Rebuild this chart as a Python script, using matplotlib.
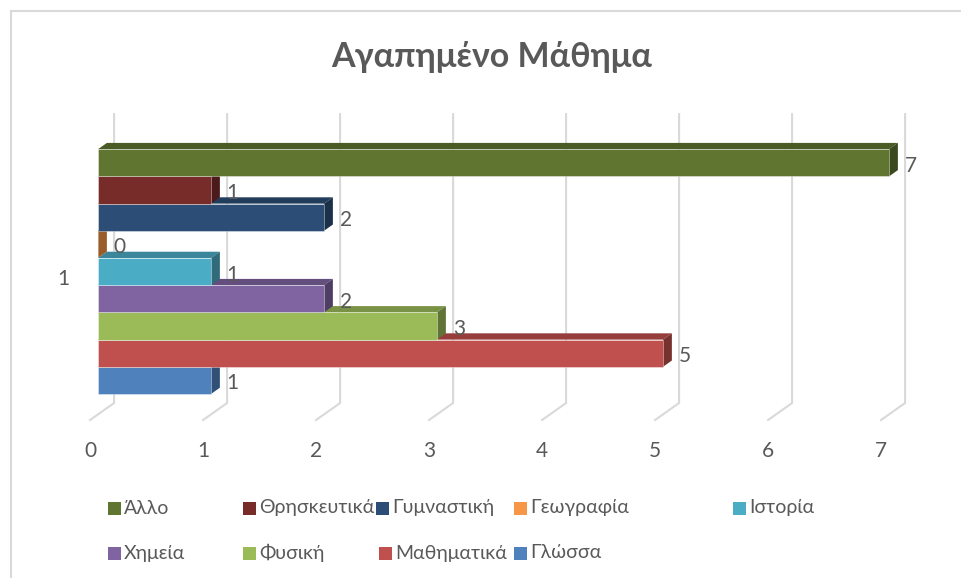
import matplotlib.pyplot as plt
from matplotlib.patches import Polygon, Rectangle

# data, listed bottom to top as drawn
subjects = ['Γλώσσα', 'Μαθηματικά', 'Φυσική', 'Χημεία', 'Ιστορία',
            'Γεωγραφία', 'Γυμναστική', 'Θρησκευτικά', 'Άλλο']
counts = [1, 5, 3, 2, 1, 0, 2, 1, 7]
colors = ['#4F81BD', '#C0504D', '#9BBB59', '#8064A2', '#4BACC6',
          '#F79646', '#2C4D75', '#772C2A', '#5F7530']
category = '1'
xticks = [0, 1, 2, 3, 4, 5, 6, 7]

# legend reading order (Excel style, row by row)
legend_rows = [['Άλλο', 'Θρησκευτικά', 'Γυμναστική', 'Γεωγραφία', 'Ιστορία'],
               ['Χημεία', 'Φυσική', 'Μαθηματικά', 'Γλώσσα']]
legend_x = [[108, 243, 376, 514, 733], [108, 243, 379, 514]]
legend_y = [508, 553]

W, H = 962, 578
X0, XS = 98, 113.0      # pixel of value 0 and pixels per unit (bar front plane)
Y0, YS = 394, 27.2      # pixel of bottom bar edge and pixels per bar

# 3d depth: full wall offset in data units
DX, DY = 24 / XS, 17 / YS
F0, F1 = 0.33, 0.70     # bar front / back depth fractions
Y_FLOOR, Y_TOP = -0.75, 9.87

TEXT = '#595959'
GRID = '#D9D9D9'
FONT = ['Lato', 'DejaVu Sans']
plt.rcParams['font.family'] = FONT
FS = 15


def shade(c, k):
    r, g, b = (int(c[i:i + 2], 16) / 255 for i in (1, 3, 5))
    return (r * k, g * k, b * k)


fig = plt.figure(figsize=(W / 100, H / 100), dpi=100)
ax = fig.add_axes([0, 0, 1, 1])
ax.set_xlim(-X0 / XS, (W - X0) / XS)
ax.set_ylim(-(H - Y0) / YS, Y0 / YS)
ax.axis('off')

# back wall gridlines with floor diagonal
for v in xticks:
    bx, by = v + (1 - F0) * DX, (1 - F0) * DY
    ax.plot([bx, bx, v - F0 * DX], [Y_TOP + by, Y_FLOOR + by, Y_FLOOR - F0 * DY],
            color=GRID, lw=1.5, solid_joinstyle='miter', zorder=1)
    ax.text(v - F0 * DX, -2.08, str(v), ha='center', va='center',
            fontsize=FS, color=TEXT)

dx, dy = (F1 - F0) * DX, (F1 - F0) * DY
for i, (v, c) in enumerate(zip(counts, colors)):
    z = 3 + i
    ax.barh(i + 0.5, v, height=1, left=0, color=c, edgecolor=(1, 1, 1, 0.45),
            linewidth=0.6, zorder=z + 0.2)
    top = [(0, i + 1), (v, i + 1), (v + dx, i + 1 + dy), (dx, i + 1 + dy)]
    side = [(v, i), (v, i + 1), (v + dx, i + 1 + dy), (v + dx, i + dy)]
    ax.add_patch(Polygon(top, closed=True, facecolor=shade(c, 0.78),
                         edgecolor='none', zorder=z))
    ax.add_patch(Polygon(side, closed=True, facecolor=shade(c, 0.62),
                         edgecolor='none', zorder=z + 0.1))
    ax.text(v + dx + 0.06, i + 0.5 - 0.11, str(v), ha='left', va='center',
            fontsize=FS, color=TEXT, zorder=20)

# category label
ax.text(-F0 * DX - 0.24, len(counts) / 2 - F0 * DY - 0.06, category,
        ha='center', va='center', fontsize=FS, color=TEXT)

# title
fig.text(491.5 / W, 1 - 57 / H, 'Αγαπημένο Μάθημα', ha='center', va='center',
         fontsize=24.5, fontweight='bold', color=TEXT)

# legend
color_of = dict(zip(subjects, colors))
for row, xs, yc in zip(legend_rows, legend_x, legend_y):
    for name, xp in zip(row, xs):
        fig.patches.append(Rectangle((xp / W, 1 - (yc + 6.5) / H), 13 / W, 13 / H,
                                     transform=fig.transFigure,
                                     facecolor=color_of[name], edgecolor='none'))
        fig.text((xp + 16) / W, 1 - yc / H, name, ha='left', va='center',
                 fontsize=14, color=TEXT)

# chart border
fig.patches.append(Rectangle((11 / W, -0.1), 1.2, 1.1 - 11 / H,
                             transform=fig.transFigure, fill=False,
                             edgecolor=GRID, linewidth=1.5))

fig.savefig('out.png', dpi=100)
